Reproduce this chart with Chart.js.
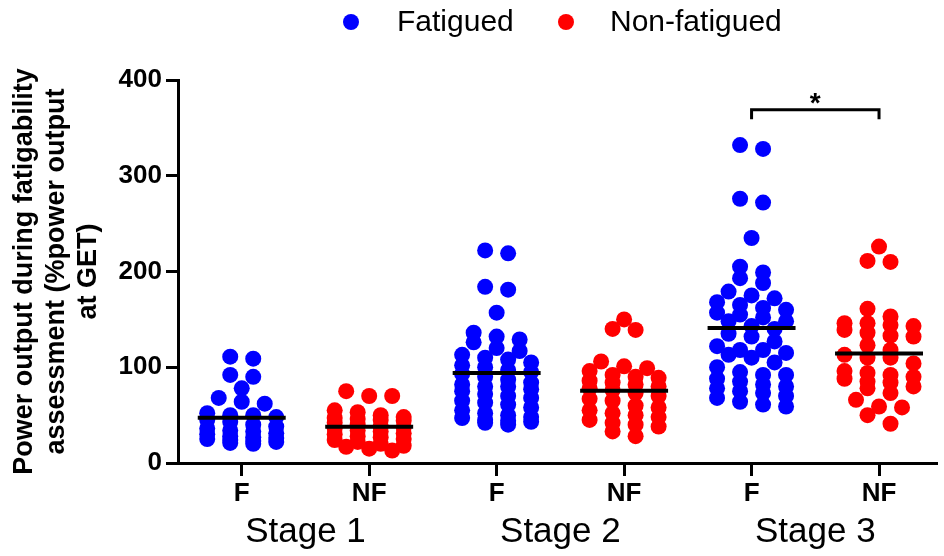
<!DOCTYPE html>
<html>
<head>
<meta charset="utf-8">
<script src="https://cdn.jsdelivr.net/npm/chart.js@4.4.1/dist/chart.umd.min.js"></script>
<style>
  html, body { margin: 0; padding: 0; background: #fff; }
</style>
</head>
<body>
<canvas id="chart" width="944" height="556"></canvas>
<script>
const groups = ["F", "NF", "F", "NF", "F", "NF"];
const stages = ["Stage 1", "Stage 2", "Stage 3"];
const yTicks = [0, 100, 200, 300, 400];

// power output (% of power output at GET), one array per group
const stage1F = [111, 109, 92, 90, 78, 68, 64, 62, 52, 50, 50, 48, 45, 43, 40, 38, 36, 34, 33, 31, 30, 28, 27, 26, 25, 24, 23, 22, 21, 20];
const stage1NF = [75, 70, 70, 55, 53, 50, 48, 47, 46, 45, 44, 42, 40, 38, 37, 36, 34, 33, 31, 30, 28, 27, 25, 24, 22, 20, 18, 17, 15, 13];
const stage2F = [222, 219, 184, 181, 157, 136, 132, 129, 126, 120, 117, 113, 110, 108, 105, 102, 100, 97, 95, 93, 90, 87, 84, 82, 80, 80, 77, 75, 72, 70, 68, 65, 63, 61, 58, 55, 52, 50, 48, 47, 45, 44, 43, 42, 40];
const stage2NF = [150, 140, 139, 106, 101, 99, 96, 92, 90, 89, 86, 84, 82, 80, 78, 76, 73, 70, 67, 65, 60, 58, 55, 52, 50, 48, 45, 42, 40, 38, 33, 28];
const stage3F = [332, 328, 276, 272, 235, 205, 199, 193, 188, 179, 175, 172, 168, 165, 162, 160, 157, 155, 152, 148, 148, 143, 140, 135, 132, 127, 122, 118, 118, 115, 113, 110, 105, 100, 95, 92, 92, 88, 85, 82, 80, 78, 75, 73, 70, 68, 64, 61, 59];
const stage3NF = [226, 211, 210, 161, 153, 146, 146, 144, 143, 139, 136, 133, 132, 123, 118, 113, 110, 110, 104, 96, 94, 92, 90, 88, 85, 84, 80, 78, 73, 66, 59, 58, 50, 41];

const groupValues = [stage1F, stage1NF, stage2F, stage2NF, stage3F, stage3NF];
const sigPair = [4, 5];
const sigLevel = [359, 369];

const BLUE = "#0000ff";
const RED = "#ff0000";
const FONT = "'Liberation Sans', Arial, sans-serif";
Chart.defaults.font.family = FONT;

const mean = (a) => a.reduce((s, v) => s + v, 0) / a.length;
const HALF = 0.345;

const meanData = [];
groupValues.forEach((vals, i) => {
  const m = mean(vals);
  meanData.push({ x: i - HALF, y: m }, { x: i + HALF, y: m }, { x: i + 0.5, y: null });
});

function plain(idxs) {
  const out = [];
  idxs.forEach((i) => groupValues[i].forEach((v) => out.push({ x: i, y: v })));
  return out;
}

const overlay = {
  id: "overlay",
  afterDraw(chart) {
    const ctx = chart.ctx;
    ctx.save();
    // legend
    ctx.font = "30px " + FONT;
    ctx.textBaseline = "middle";
    ctx.fillStyle = BLUE;
    ctx.beginPath(); ctx.arc(351, 22, 8, 0, Math.PI * 2); ctx.fill();
    ctx.fillStyle = RED;
    ctx.beginPath(); ctx.arc(566, 22, 8, 0, Math.PI * 2); ctx.fill();
    ctx.fillStyle = "#000";
    ctx.fillText("Fatigued", 397, 23);
    ctx.fillText("Non-fatigued", 610, 23);
    // asterisk
    const xs = chart.scales.x, ys = chart.scales.y;
    ctx.font = "bold 28px " + FONT;
    ctx.textAlign = "center";
    ctx.textBaseline = "alphabetic";
    ctx.fillText("*", xs.getPixelForValue((sigPair[0] + sigPair[1]) / 2), ys.getPixelForValue(sigLevel[1]) + 2);
    ctx.restore();
  }
};

const chart = new Chart(document.getElementById("chart"), {
  type: "scatter",
  data: {
    datasets: [
      {
        type: "line",
        label: "mean",
        data: meanData,
        borderColor: "#000",
        borderWidth: 4,
        pointRadius: 0,
        spanGaps: false,
        borderCapStyle: "butt"
      },
      {
        type: "line",
        label: "sig",
        data: [
          { x: sigPair[0], y: sigLevel[0] },
          { x: sigPair[0], y: sigLevel[1] },
          { x: sigPair[1], y: sigLevel[1] },
          { x: sigPair[1], y: sigLevel[0] }
        ],
        borderColor: "#000",
        borderWidth: 3,
        pointRadius: 0
      },
      {
        label: "Fatigued",
        data: plain([0, 2, 4]),
        backgroundColor: BLUE,
        borderWidth: 0,
        pointRadius: 8,
        pointHoverRadius: 8
      },
      {
        label: "Non-fatigued",
        data: plain([1, 3, 5]),
        backgroundColor: RED,
        borderWidth: 0,
        pointRadius: 8,
        pointHoverRadius: 8
      }
    ]
  },
  options: {
    responsive: false,
    animation: false,
    devicePixelRatio: 1,
    layout: { padding: { top: 80, right: 0, left: 0, bottom: 0 } },
    plugins: { legend: { display: false }, tooltip: { enabled: false } },
    scales: {
      x: {
        type: "linear",
        min: -0.5,
        max: 5.447,
        weight: 0,
        afterBuildTicks: (s) => { s.ticks = groups.map((g, i) => ({ value: i })); },
        afterFit: (s) => { s.height = 40; },
        ticks: {
          callback: (v) => groups[v],
          font: { size: 26, weight: "bold" },
          color: "#000",
          padding: 2,
          autoSkip: false,
          maxRotation: 0
        },
        grid: { drawOnChartArea: false, drawTicks: true, tickLength: 13, color: "#000", lineWidth: 3 },
        border: { color: "#000", width: 3 }
      },
      x2: {
        type: "linear",
        axis: "x",
        position: "bottom",
        min: -0.5,
        max: 5.447,
        weight: 1,
        afterBuildTicks: (s) => { s.ticks = [0.5, 2.5, 4.5].map((v) => ({ value: v })); },
        afterFit: (s) => { s.height = 53; },
        ticks: {
          callback: (v, i) => stages[i],
          font: { size: 35 },
          color: "#000",
          padding: 0,
          autoSkip: false,
          maxRotation: 0
        },
        grid: { display: false },
        border: { display: false }
      },
      y: {
        min: 0,
        max: 400,
        afterBuildTicks: (s) => { s.ticks = yTicks.map((v) => ({ value: v })); },
        afterFit: (s) => { s.width = 178; },
        ticks: { font: { size: 26, weight: "bold" }, color: "#000", padding: 4 },
        grid: { drawOnChartArea: false, drawTicks: true, tickLength: 12, color: "#000", lineWidth: 3 },
        border: { color: "#000", width: 3 },
        title: {
          display: true,
          text: ["Power output during fatigability", "assessment (%power output", "at GET)"],
          font: { size: 27, weight: "bold", lineHeight: 1.2 },
          color: "#000",
          padding: { top: 8, bottom: 0 }
        }
      }
    }
  },
  plugins: [overlay]
});

// GraphPad style scatter: values that would overlap go into a row,
// each row (max 4 dots) is centred on the group with fixed spacing
const SPACING = 23;
const ROW_PX = 9;
const ROW_MAX = 4;
function swarm(i) {
  const xs = chart.scales.x, ys = chart.scales.y;
  const unit = xs.getPixelForValue(1) - xs.getPixelForValue(0);
  const sorted = groupValues[i].slice().sort((a, b) => b - a);
  const rows = [];
  let row = null;
  sorted.forEach((v) => {
    const py = ys.getPixelForValue(v);
    if (!row || row.length >= ROW_MAX || py - row.y0 > ROW_PX) {
      row = [];
      row.y0 = py;
      rows.push(row);
    }
    row.push(v);
  });
  const out = [];
  rows.forEach((r) => {
    r.forEach((v, j) => {
      const dx = (j - (r.length - 1) / 2) * SPACING;
      out.push({ x: i + dx / unit, y: v });
    });
  });
  return out;
}

chart.data.datasets[2].data = [0, 2, 4].flatMap(swarm);
chart.data.datasets[3].data = [1, 3, 5].flatMap(swarm);
chart.update("none");
</script>
</body>
</html>
